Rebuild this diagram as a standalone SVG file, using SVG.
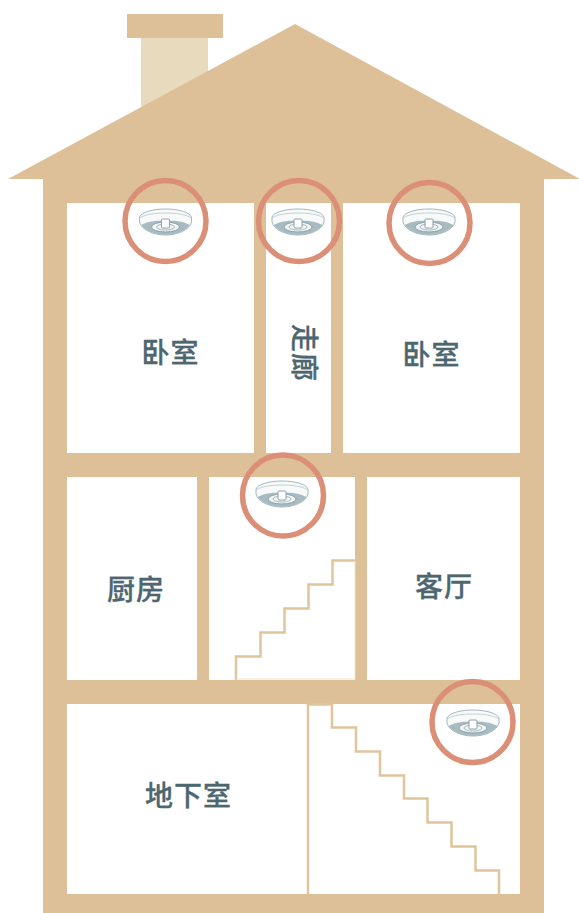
<svg xmlns="http://www.w3.org/2000/svg" width="579" height="913" viewBox="0 0 579 913">
<style>
.w{fill:#ddc098}
.r{fill:#fff}
.s{fill:none;stroke:#e0c49c;stroke-width:2.500}
.c{fill:none;stroke:#db8f76;stroke-width:5.500}
.t{font-family:"Noto Sans CJK SC","Noto Sans CJK JP",sans-serif;font-size:28px;font-weight:500;fill:#4c6770;stroke:#4c6770;stroke-width:.3;text-anchor:middle;letter-spacing:1px}
</style>
<defs>
<g id="det">
<path d="M-26,-5 C-24,-10 -12,-13 0,-13 C12,-13 24,-10 26,-5 L26,0 C24,8 12,13 0,13 C-12,13 -24,8 -26,0 Z" fill="#f8fafa" stroke="#a3b7bd" stroke-width="1"/>
<path d="M-26,-4 C-20,-8 -10,-9 0,-9 C10,-9 20,-8 26,-4" fill="none" stroke="#c3d0d4" stroke-width="1"/>
<path d="M-24.500,3 C-17,-1 -8,-1.500 0,-1.500 C8,-1.500 17,-1 24.500,3 C19,10 8,13 0,13 C-8,13 -19,10 -24.500,3 Z" fill="#a8bbc1"/>
<ellipse cx="0" cy="5" rx="14" ry="5" fill="#f1f5f5" stroke="#8aa2aa" stroke-width="1"/>
<ellipse cx="0" cy="5" rx="9" ry="3" fill="none" stroke="#a8bbc1" stroke-width="1"/>
<rect x="-4" y="-3" width="8" height="9" rx="1" fill="#fff" stroke="#8aa2aa" stroke-width="1"/>
</g>
</defs>
<g id="house">
<rect x="141" y="30" width="67" height="90" fill="#e8dabd"/>
<rect class="w" x="127" y="14" width="96" height="24"/>
<polygon class="w" points="295,24 580,179 544,179 544,913 43,913 43,179 8,179"/>
</g>
<g id="rooms">
<rect class="r" x="67" y="203" width="187" height="250"/>
<rect class="r" x="266" y="203" width="65" height="250"/>
<rect class="r" x="343" y="203" width="177" height="250"/>
<rect class="r" x="67" y="477" width="130" height="203"/>
<rect class="r" x="209" y="477" width="146" height="203"/>
<rect class="r" x="367" y="477" width="153" height="203"/>
<rect class="r" x="67" y="704" width="453" height="190"/>
</g>
<g id="stairs">
<path class="s" d="M236,680 V656.500 H260.500 V632.500 H284.500 V608.500 H308.500 V584.500 H332.500 V560.500 H355"/>
<path d="M236,679 H355 V561" fill="none" stroke="#efe2cc" stroke-width="1"/>
<path class="s" d="M308,704 V894"/>
<path class="s" d="M308,704.500 H332"/>
<path class="s" d="M332,704 V727.500 H356 V751.500 H380 V775.500 H404 V798.500 H427.500 V822.500 H451.500 V846.500 H475.500 V870.500 H499 V894"/>
</g>
<g id="detector1"><use href="#det" x="165.500" y="222"/><circle class="c" cx="165.500" cy="221" r="40.500"/></g>
<g id="detector2"><use href="#det" x="298" y="222"/><circle class="c" cx="299" cy="221" r="40.500"/></g>
<g id="detector3"><use href="#det" x="429" y="222"/><circle class="c" cx="429.500" cy="223" r="40.500"/></g>
<g id="detector4"><use href="#det" x="282" y="494"/><circle class="c" cx="283" cy="495.500" r="40.500"/></g>
<g id="detector5"><use href="#det" x="473" y="723"/><circle class="c" cx="472.500" cy="722" r="40.500"/></g>
<g id="labels">
<text class="t" x="170.500" y="363">卧室</text>
<text class="t" x="431.500" y="365">卧室</text>
<text class="t" transform="translate(294,353) rotate(90)">走廊</text>
<text class="t" x="136" y="600">厨房</text>
<text class="t" x="444" y="597">客厅</text>
<text class="t" x="188.500" y="806">地下室</text>
</g>
</svg>
